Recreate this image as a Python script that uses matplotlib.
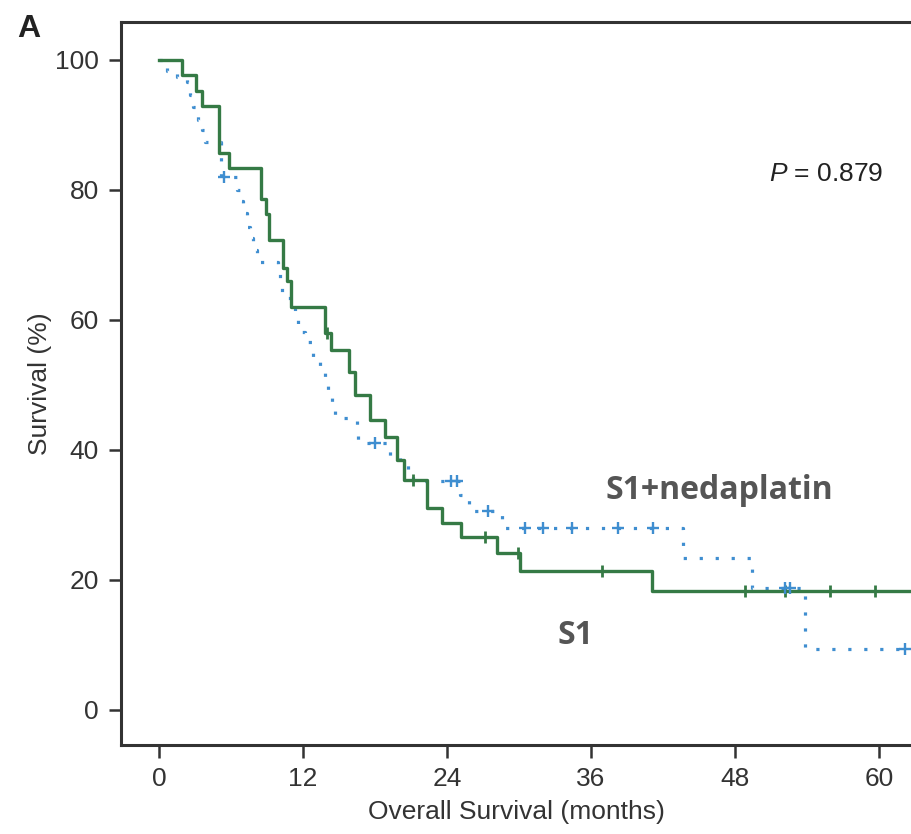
import numpy as np
import matplotlib
matplotlib.use('Agg')
import matplotlib.pyplot as plt

plt.rcParams['font.family'] = ['Liberation Sans', 'DejaVu Sans']
plt.rcParams['mathtext.fontset'] = 'custom'
plt.rcParams['mathtext.it'] = 'Liberation Sans:italic'
plt.rcParams['mathtext.rm'] = 'Liberation Sans'

# S1 arm (solid green): step times (months) and survival (%) after each step
s1_time = [0, 1.9, 3.1, 3.6, 5.0, 5.8, 8.5, 8.9, 9.2, 10.3, 10.7, 11.0, 13.8, 14.3,
           15.8, 16.3, 17.6, 18.8, 19.8, 20.4, 22.3, 23.6, 25.2, 28.2, 30.1, 41.1]
s1_surv = [100, 97.6, 95.2, 92.9, 85.7, 83.3, 78.6, 76.2, 72.3, 68.0, 66.0, 61.9, 58.0, 55.4,
           52.0, 48.5, 44.6, 42.0, 38.5, 35.4, 31.0, 28.8, 26.6, 24.1, 21.4, 18.3]
s1_cens_t = [14.0, 21.2, 27.2, 29.9, 36.9, 48.8, 52.2, 55.9, 59.7]
s1_cens_s = [58.0, 35.4, 26.6, 24.1, 21.4, 18.3, 18.3, 18.3, 18.3]

# S1+nedaplatin arm (dotted blue)
sn_time = [0, 0.7, 1.5, 2.3, 2.6, 2.8, 3.25, 3.6, 3.8, 5.2, 6.5, 6.75, 7.0, 7.3, 7.6, 7.8,
           8.2, 9.9, 10.1, 10.25, 11.3, 11.6, 12.2, 12.75, 12.8, 13.4, 13.8, 14.1, 14.4,
           14.7, 16.5, 16.6, 19.25, 20.1, 20.75, 21.2, 25.1, 25.8, 28.6, 43.7, 49.4, 53.8]
sn_surv = [100, 98.2, 97.4, 96.5, 94.6, 92.8, 90.8, 89.2, 87.4, 82.0, 80.0, 78.2, 76.5, 74.2,
           72.6, 70.8, 68.9, 67.4, 65.4, 63.4, 60.5, 58.2, 56.6, 55.7, 53.5, 52.0, 50.5,
           48.5, 46.6, 44.9, 43.4, 41.1, 38.9, 38.0, 36.9, 35.2, 33.1, 30.6, 28.0, 23.4,
           18.7, 9.4]
sn_cens_t = [5.4, 18.0, 24.3, 24.8, 27.4, 30.5, 32.0, 34.4, 38.25, 41.2, 52.2, 52.6, 62.2]
sn_cens_s = [82.0, 41.1, 35.2, 35.2, 30.6, 28.0, 28.0, 28.0, 28.0, 28.0, 18.7, 18.7, 9.4]

end_time = 63.0
x_ticks = [0, 12, 24, 36, 48, 60]
y_ticks = [0, 20, 40, 60, 80, 100]

green = '#357a45'
blue = '#3f8ed0'
axis_col = '#333333'

fig = plt.figure(figsize=(9.12, 8.34), dpi=100)
ax = fig.add_axes([0.1327, 0.1067, 0.8673, 0.8669])

ax.step(s1_time + [end_time], s1_surv + [s1_surv[-1]], where='post',
        color=green, linewidth=2.4, zorder=3)
ax.plot(s1_cens_t, s1_cens_s, linestyle='none', marker='|', markersize=9,
        markeredgewidth=2, color=green, zorder=4)

ax.step(sn_time + [end_time], sn_surv + [sn_surv[-1]], where='post',
        color=blue, linewidth=2.3, linestyle=(0, (1, 4.0)), zorder=2)
ax.plot(sn_cens_t, sn_cens_s, linestyle='none', marker='+', markersize=8,
        markeredgewidth=1.7, color=blue, zorder=4)

ax.set_xlim(-3.17, 62.75)
ax.set_ylim(-5.4, 105.8)
ax.set_xticks(x_ticks)
ax.set_yticks(y_ticks)
ax.tick_params(direction='out', length=9, width=1.8, colors=axis_col,
               labelsize=19, pad=7)
for side in ['left', 'bottom', 'top']:
    ax.spines[side].set_linewidth(2.2)
    ax.spines[side].set_color(axis_col)
ax.spines['right'].set_visible(False)

ax.set_xlabel('Overall Survival (months)', fontsize=19, color=axis_col, labelpad=6)
ax.set_ylabel('Survival (%)', fontsize=19, color=axis_col, labelpad=2)

ax.text(55.6, 82.5, r'$\it{P}$ = 0.879', fontsize=19, color='#222222', ha='center', va='center')
ax.text(37.2, 33.8, 'S1+nedaplatin', fontsize=23, fontweight='bold', color='#555555',
        family='Open Sans', ha='left', va='center')
ax.text(33.2, 11.5, 'S1', fontsize=23, fontweight='bold', color='#555555',
        family='Open Sans', ha='left', va='center')
fig.text(0.032, 0.965, 'A', fontsize=23, fontweight='bold', color='#222222',
         ha='center', va='center')

fig.savefig('out.png', dpi=100)
